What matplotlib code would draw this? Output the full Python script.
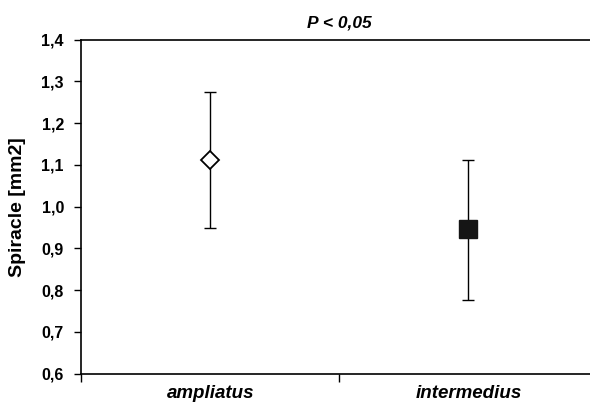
import matplotlib
matplotlib.use("Agg")
import matplotlib.pyplot as plt

categories = ["ampliatus", "intermedius"]
means = [1.112, 0.946]
upper = [1.274, 1.112]
lower = [0.950, 0.777]
yticks = [0.6, 0.7, 0.8, 0.9, 1.0, 1.1, 1.2, 1.3, 1.4]
ytick_labels = ["0,6", "0,7", "0,8", "0,9", "1,0", "1,1", "1,2", "1,3", "1,4"]
title = "P < 0,05"
ylabel = "Spiracle [mm2]"

plt.rcParams['font.family'] = ['Liberation Sans', 'DejaVu Sans']

W, H = 590, 404
fig = plt.figure(figsize=(W/100, H/100), dpi=100)
left, right, top, bottom = 81.3, 597.3, 39.7, 373.7
ax = fig.add_axes([left/W, 1-bottom/H, (right-left)/W, (bottom-top)/H])

xs = [1, 2]
styles = [dict(marker='D', ms=9, mfc='white', mec='black', mew=1.3),
          dict(marker='s', ms=13, mfc='#151515', mec='#151515', mew=1)]
for x, m, u, l, st in zip(xs, means, upper, lower, styles):
    ax.errorbar([x], [m], yerr=[[m - l], [u - m]], fmt='none', ecolor='black',
                elinewidth=1, capsize=4.2, capthick=1, zorder=2)
    ax.plot([x], [m], linestyle='none', zorder=3, **st)

ax.set_xlim(0.5, 2.5)
ax.set_ylim(0.6, 1.4)
ax.set_yticks(yticks)
ax.set_yticklabels(ytick_labels, fontsize=11.5, fontweight='bold')
ax.set_xticks([0.5, 1.5, 2.5])
ax.set_xticklabels([])
ax.set_xticks(xs, minor=True)
ax.set_xticklabels(categories, minor=True, fontsize=13.5, fontweight='bold', style='italic')
ax.tick_params(axis='x', which='minor', length=0, pad=8)
ax.tick_params(axis='x', which='major', length=6, width=1, direction='out')
ax.tick_params(axis='y', length=5, width=1, direction='out', pad=7.5)

for s in ['left', 'bottom', 'top']:
    ax.spines[s].set_linewidth(1.2)
ax.spines['right'].set_visible(False)

fig.text(339.3/W, 1-27/H, title, fontsize=12.5, fontweight='bold', style='italic',
         ha='center', va='baseline')
fig.text(18/W, 1-206.7/H, ylabel, fontsize=14, fontweight='bold',
         rotation=90, ha='center', va='center')

fig.savefig("out.png", dpi=100)
